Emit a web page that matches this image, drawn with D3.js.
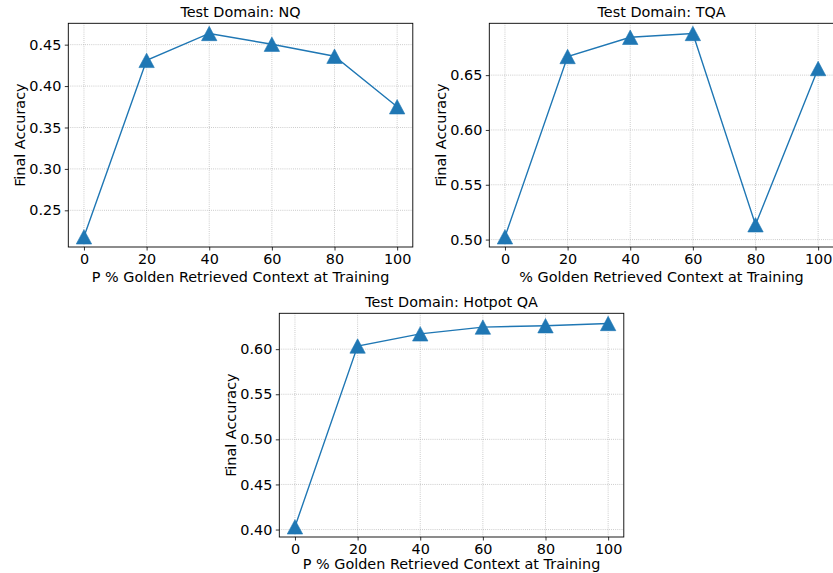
<!DOCTYPE html>
<html>
<head>
<meta charset="utf-8">
<script src="https://cdn.jsdelivr.net/npm/d3@7"></script>
<style>
  body { margin: 0; background: #fff; }
  svg { display: block; font-family: "DejaVu Sans", sans-serif; }
</style>
</head>
<body>
<svg id="chart" width="833" height="573"></svg>
<script>
const pctGolden = [0, 20, 40, 60, 80, 100];
const nqAccuracy = [0.218, 0.431, 0.4635, 0.4505, 0.436, 0.375];
const tqaAccuracy = [0.5025, 0.667, 0.6845, 0.688, 0.5135, 0.656];
const hotpotAccuracy = [0.403, 0.6035, 0.617, 0.6245, 0.626, 0.6285];

const xTicks = [0, 20, 40, 60, 80, 100];
const nqTicks = [0.25, 0.30, 0.35, 0.40, 0.45];
const tqaTicks = [0.50, 0.55, 0.60, 0.65];
const hotpotTicks = [0.40, 0.45, 0.50, 0.55, 0.60];

const panelTitles = ['Test Domain: NQ', 'Test Domain: TQA', 'Test Domain: Hotpot QA'];
const xLabels = [
  'P % Golden Retrieved Context at Training',
  '% Golden Retrieved Context at Training',
  'P % Golden Retrieved Context at Training',
];

const BLUE = '#1f77b4';
const FONT = 14.4;
const W = 344.5;
const H = 223.7;

// the bottom panel's label sits a bit higher so it stays inside the page
const panels = [
  { left: 68.3, top: 23.3, values: nqAccuracy, ticks: nqTicks, labelGap: 35 },
  { left: 489.3, top: 23.3, values: tqaAccuracy, ticks: tqaTicks, labelGap: 35 },
  { left: 279.3, top: 313.3, values: hotpotAccuracy, ticks: hotpotTicks, labelGap: 32 },
];

const svg = d3.select('#chart');
svg.append('rect').attr('width', 833).attr('height', 573).attr('fill', '#fff');

// matplotlib style auto limits: 5% margin on each side
function padded(extent) {
  const span = extent[1] - extent[0];
  return [extent[0] - 0.05 * span, extent[1] + 0.05 * span];
}

function drawPanel(p, i) {
  const g = svg.append('g').attr('transform', `translate(${p.left},${p.top})`);
  const x = d3.scaleLinear().domain(padded(d3.extent(pctGolden))).range([0, W]);
  const y = d3.scaleLinear().domain(padded(d3.extent(p.values))).range([H, 0]);

  const clipId = 'clip' + i;
  g.append('clipPath').attr('id', clipId)
    .append('rect').attr('width', W).attr('height', H);

  // grid
  const grid = g.append('g')
    .attr('stroke', '#b0b0b0')
    .attr('stroke-width', 0.8)
    .attr('stroke-dasharray', '0.8,1.3');
  grid.selectAll('.gx').data(xTicks).join('line')
    .attr('x1', (d) => x(d)).attr('x2', (d) => x(d))
    .attr('y1', 0).attr('y2', H);
  grid.selectAll('.gy').data(p.ticks).join('line')
    .attr('x1', 0).attr('x2', W)
    .attr('y1', (d) => y(d)).attr('y2', (d) => y(d));

  const plot = g.append('g').attr('clip-path', `url(#${clipId})`);
  const line = d3.line().x((d, j) => x(pctGolden[j])).y((d) => y(d));
  plot.append('path')
    .datum(p.values)
    .attr('d', line)
    .attr('fill', 'none')
    .attr('stroke', BLUE)
    .attr('stroke-width', 1.4);

  const tw = 7.7;
  const th = 7.2;
  plot.selectAll('.marker').data(p.values).join('path')
    .attr('transform', (d, j) => `translate(${x(pctGolden[j])},${y(d)})`)
    .attr('d', `M0,${-th}L${tw},${th}L${-tw},${th}Z`)
    .attr('fill', BLUE)
    .attr('stroke', BLUE)
    .attr('stroke-width', 0.6);

  // axes
  const xAxis = d3.axisBottom(x).tickValues(xTicks).tickFormat(d3.format('d'))
    .tickSize(3.5).tickPadding(3.6).tickSizeOuter(0);
  const yAxis = d3.axisLeft(y).tickValues(p.ticks).tickFormat(d3.format('.2f'))
    .tickSize(3.5).tickPadding(3.5).tickSizeOuter(0);

  const gx = g.append('g').attr('transform', `translate(0,${H})`).call(xAxis);
  const gy = g.append('g').call(yAxis);
  [gx, gy].forEach((ax) => {
    ax.select('.domain').remove();
    ax.selectAll('line').attr('stroke', '#000').attr('stroke-width', 0.8);
    ax.selectAll('text')
      .attr('fill', '#000')
      .style('font-family', '"DejaVu Sans", sans-serif')
      .style('font-size', FONT + 'px');
  });

  g.append('rect')
    .attr('width', W).attr('height', H)
    .attr('fill', 'none')
    .attr('stroke', '#000')
    .attr('stroke-width', 0.9);

  g.append('text')
    .attr('x', W / 2).attr('y', -6)
    .attr('text-anchor', 'middle')
    .style('font-size', FONT + 'px')
    .text(panelTitles[i]);

  g.append('text')
    .attr('x', W / 2).attr('y', H + p.labelGap)
    .attr('text-anchor', 'middle')
    .style('font-size', FONT + 'px')
    .text(xLabels[i]);

  g.append('text')
    .attr('transform', `translate(-43,${H / 2}) rotate(-90)`)
    .attr('text-anchor', 'middle')
    .style('font-size', FONT + 'px')
    .text('Final Accuracy');
}

panels.forEach(drawPanel);
</script>
</body>
</html>
